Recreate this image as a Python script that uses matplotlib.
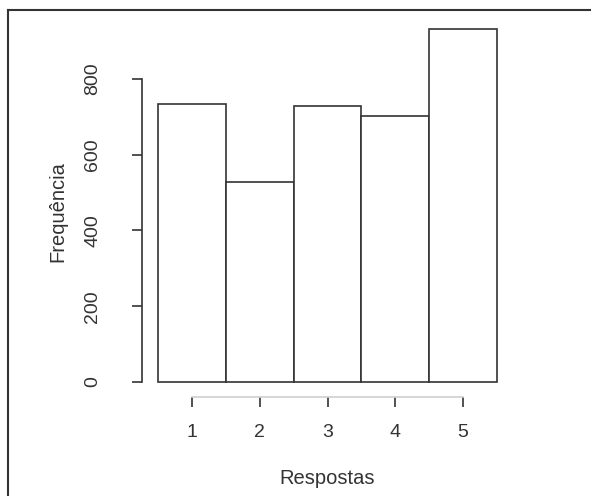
import matplotlib
matplotlib.use("Agg")
import matplotlib.pyplot as plt
from matplotlib.lines import Line2D

plt.rcParams['font.family'] = ['Liberation Sans', 'DejaVu Sans']

categories = [1, 2, 3, 4, 5]
frequencies = [734, 528, 728, 703, 931]
y_ticks = [0, 200, 400, 600, 800]

W, H = 591, 496
fig = plt.figure(figsize=(W / 100, H / 100), dpi=100)

# axes placement in pixels
left_px, right_px, top_px, bottom_px = 142, 513, 14, 397
ax = fig.add_axes([left_px / W, 1 - bottom_px / H,
                   (right_px - left_px) / W, (bottom_px - top_px) / H])

text_color = '#333333'
ax.bar(categories, frequencies, width=1.0, facecolor='white',
       edgecolor='#333333', linewidth=1.2)

ax.set_xlim(0.264, 5.736)
ax.set_ylim(-39.6, 971.6)

for s in ['top', 'right']:
    ax.spines[s].set_visible(False)
ax.spines['left'].set_bounds(0, 800)
ax.spines['left'].set_color('#333333')
ax.spines['left'].set_linewidth(1.2)
ax.spines['bottom'].set_bounds(1, 5)
ax.spines['bottom'].set_color('#d0d0d0')
ax.spines['bottom'].set_linewidth(1.2)

ax.set_xticks(categories)
ax.set_xticklabels([str(c) for c in categories])
ax.set_yticks(y_ticks)
ax.set_yticklabels([str(v) for v in y_ticks], rotation=90, va='center')

ax.tick_params(axis='x', direction='out', length=7.2, width=1.2,
               color='#333333', pad=12, labelsize=14, labelcolor=text_color)
ax.tick_params(axis='y', direction='out', length=7.2, width=1.2,
               color='#333333', pad=22, labelsize=14, labelcolor=text_color)

fig.text(58 / W, 1 - 212 / H, 'Frequência', rotation=90, ha='center',
         va='center', fontsize=14.5, color=text_color)
fig.text(327 / W, 1 - 478 / H, 'Respostas', ha='center', va='center',
         fontsize=14.5, color=text_color)

# outer frame (top and left)
fig.add_artist(Line2D([8 / W, 1.0], [1 - 10 / H, 1 - 10 / H],
                      transform=fig.transFigure, color='#333333', linewidth=1.5))
fig.add_artist(Line2D([8 / W, 8 / W], [0.0, 1 - 10 / H],
                      transform=fig.transFigure, color='#333333', linewidth=1.5))

fig.savefig('out.png', dpi=100)
